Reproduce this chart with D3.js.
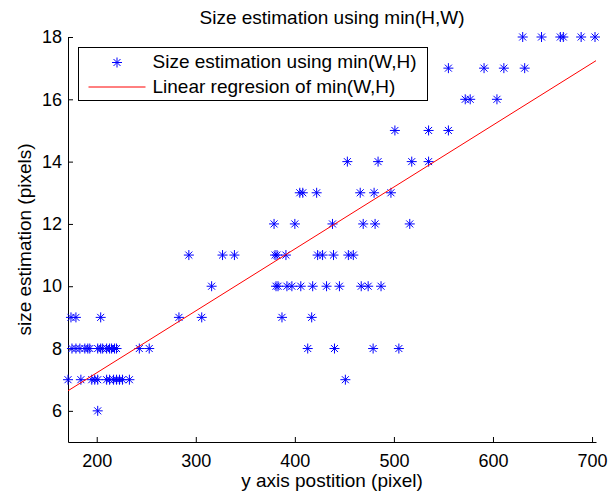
<!DOCTYPE html>
<html>
<head>
<meta charset="utf-8">
<script src="https://cdn.jsdelivr.net/npm/d3@7"></script>
<style>
  body { margin: 0; background: #fff; }
  svg text { font-family: "Liberation Sans", Arial, Helvetica, sans-serif; fill: #000; }
  .axis path, .axis line { stroke: #000; }
  .axis text { font-size: 18px; }
</style>
</head>
<body>
<div id="chart"></div>
<script>
// --- 1. DATA ---

// y axis position of each detection (pixel), written row by row
const positions = [
    201,                                                                    // 6
    171, 184, 195, 198, 201, 210, 213, 217, 220, 223, 226, 233, 451,        // 7
    175, 179, 183, 188, 191, 193, 201, 204, 206, 210, 213, 215, 218, 220,
    243, 253, 413, 440, 479, 505,                                           // 8
    174, 179, 204, 283, 306, 387, 417,                                      // 9
    316, 381, 383, 392, 397, 406, 418, 432, 445, 467, 474, 487,             // 10
    293, 327, 339, 380, 382, 391, 423, 428, 439, 454, 459,                  // 11
    379, 400, 438, 469, 481, 516,                                           // 12
    405, 408, 422, 466, 480, 497,                                           // 13
    453, 484, 518, 535,                                                     // 14
    501, 535, 555,                                                          // 15
    572, 577, 604,                                                          // 16
    555, 591, 611, 632,                                                     // 17
    630, 649, 668, 671, 689, 703                                            // 18
];

// size estimation for each detection (pixels), same order as positions
const sizes = [
    6,
    7, 7, 7, 7, 7, 7, 7, 7, 7, 7, 7, 7, 7,
    8, 8, 8, 8, 8, 8, 8, 8, 8, 8, 8, 8, 8, 8,
    8, 8, 8, 8, 8, 8,
    9, 9, 9, 9, 9, 9, 9,
    10, 10, 10, 10, 10, 10, 10, 10, 10, 10, 10, 10,
    11, 11, 11, 11, 11, 11, 11, 11, 11, 11, 11,
    12, 12, 12, 12, 12, 12,
    13, 13, 13, 13, 13, 13,
    14, 14, 14, 14,
    15, 15, 15,
    16, 16, 16,
    17, 17, 17, 17,
    18, 18, 18, 18, 18, 18
];

// end points of the fitted regression line
const regressionX = [171, 704];
const regressionY = [6.645, 17.24];

const xTicks = [200, 300, 400, 500, 600, 700];
const yTicks = [6, 8, 10, 12, 14, 16, 18];

const xDomain = [171, 704];
const yDomain = [5, 18];

const titleText = "Size estimation using min(H,W)";
const xLabel = "y axis postition (pixel)";
const yLabel = "size estimation (pixels)";
const legendLabels = ["Size estimation using min(W,H)", "Linear regresion of min(W,H)"];

// --- 2. SETUP ---

const W = 610, H = 498;
const margin = { top: 37, right: 14, bottom: 56, left: 68 };
const width = W - margin.left - margin.right;
const height = H - margin.top - margin.bottom;

const root = d3.select("#chart")
    .append("svg")
        .attr("width", W)
        .attr("height", H);

const svg = root.append("g")
    .attr("transform", `translate(${margin.left},${margin.top})`);

const x = d3.scaleLinear().domain(xDomain).range([0, width]);
const y = d3.scaleLinear().domain(yDomain).range([height, 0]);

const points = positions.map((p, i) => ({ pos: p, size: sizes[i] }));

// MATLAB style '*' marker
const star = "M-5,0H5M0,-5V5M-3.5,-3.5L3.5,3.5M-3.5,3.5L3.5,-3.5";

// --- 3. AXES ---

svg.append("g")
    .attr("class", "axis x-axis")
    .attr("transform", `translate(0,${height})`)
    .call(d3.axisBottom(x).tickValues(xTicks).tickSizeInner(-5).tickSizeOuter(0).tickPadding(12));

svg.append("g")
    .attr("class", "axis y-axis")
    .call(d3.axisLeft(y).tickValues(yTicks).tickSizeInner(-5).tickSizeOuter(0).tickPadding(6));

// --- 4. MARKS ---

svg.append("g")
    .selectAll("path")
    .data(points)
    .join("path")
        .attr("transform", d => `translate(${x(d.pos)},${y(d.size)})`)
        .attr("d", star)
        .attr("fill", "none")
        .attr("stroke", "#0000ff")
        .attr("stroke-width", 1);

svg.append("path")
    .datum(regressionX.map((v, i) => [v, regressionY[i]]))
    .attr("d", d3.line().x(d => x(d[0])).y(d => y(d[1])))
    .attr("fill", "none")
    .attr("stroke", "#ff0000")
    .attr("stroke-width", 1);

// --- 5. TEXT ---

root.append("text")
    .attr("x", margin.left + width / 2)
    .attr("y", 24)
    .attr("text-anchor", "middle")
    .style("font-size", "19px")
    .text(titleText);

root.append("text")
    .attr("x", margin.left + width / 2)
    .attr("y", 487)
    .attr("text-anchor", "middle")
    .style("font-size", "19px")
    .text(xLabel);

root.append("text")
    .attr("transform", `translate(31,${margin.top + height / 2}) rotate(-90)`)
    .attr("text-anchor", "middle")
    .style("font-size", "19px")
    .text(yLabel);

// --- 6. LEGEND ---

const legend = root.append("g").attr("transform", "translate(78.5,47.5)");

legend.append("rect")
    .attr("width", 349)
    .attr("height", 53)
    .attr("fill", "#fff")
    .attr("stroke", "#000");

legend.append("path")
    .attr("transform", "translate(38.5,15)")
    .attr("d", star)
    .attr("fill", "none")
    .attr("stroke", "#0000ff");

legend.append("line")
    .attr("x1", 10).attr("x2", 67)
    .attr("y1", 39.5).attr("y2", 39.5)
    .attr("stroke", "#ff0000");

legend.selectAll("text.item")
    .data(legendLabels)
    .join("text")
        .attr("class", "item")
        .attr("x", 74)
        .attr("y", (d, i) => 20 + i * 25.5)
        .style("font-size", "19px")
        .text(d => d);
</script>
</body>
</html>
